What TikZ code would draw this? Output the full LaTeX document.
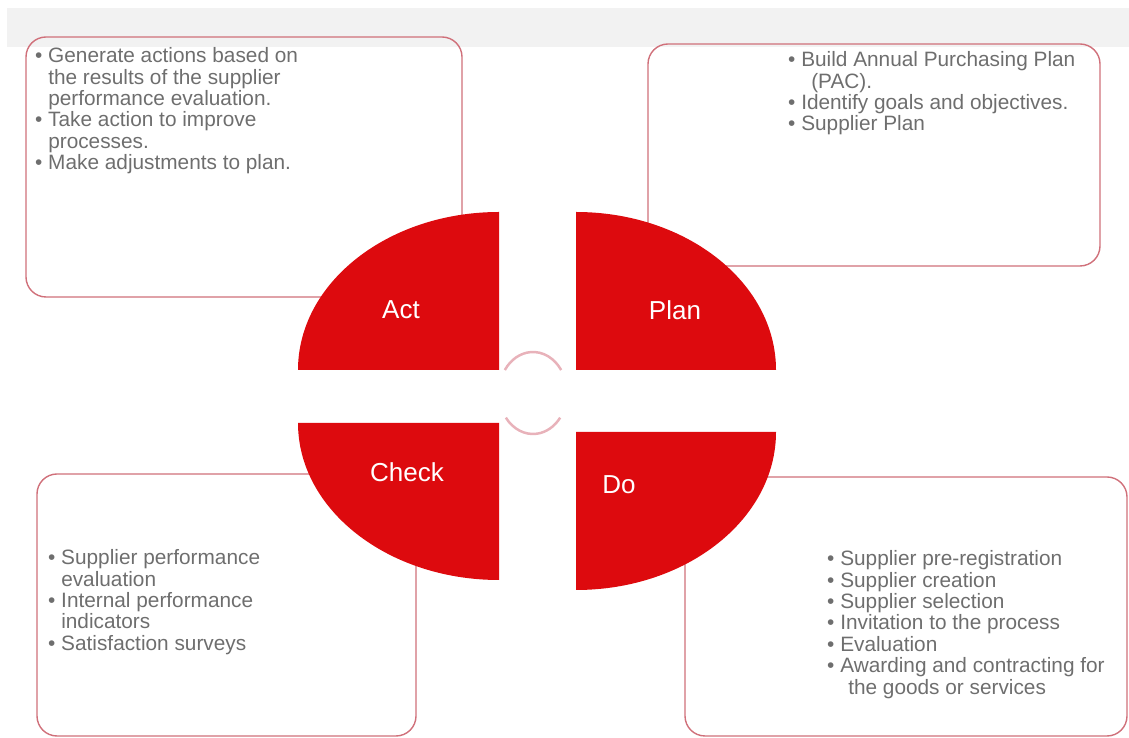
\documentclass[tikz,border=0pt]{standalone}
\usepackage{fontspec}
\setmainfont{Liberation Sans}
\definecolor{pdcared}{RGB}{221,10,14}
\definecolor{boxline}{RGB}{208,112,122}
\definecolor{ringline}{RGB}{232,178,186}
\definecolor{bandgray}{RGB}{242,242,242}
\definecolor{itemgray}{RGB}{110,110,110}
\newcommand{\bul}{\textbullet\ }
\newcommand{\bindent}{\hphantom{\textbullet\ }}

\begin{document}
\begin{tikzpicture}[x=1pt, y=1pt,
    stepbox/.style={draw=boxline, line width=1.4pt, rounded corners=20pt},
    quarter/.style={fill=pdcared},
    phase/.style={text=white, font=\fontsize{26}{30}\selectfont},
    itemlist/.style={anchor=north west, inner sep=0pt, align=left, text=itemgray,
        font=\fontsize{20.8}{21.4}\selectfont}]
    \useasboundingbox (0,0) rectangle (1129,738);
    \fill[bandgray] (7,691) rectangle (1129,730);

    % boxes
    \draw[stepbox] (26,441) rectangle (462,701);
    \draw[stepbox] (648,472) rectangle (1100,694);
    \draw[stepbox] (37,2) rectangle (416,264);
    \draw[stepbox] (685,2) rectangle (1127,261);

    % quarters
    \fill[quarter] (499,368) -- ++(-201,0) arc[start angle=180, end angle=90, x radius=201, y radius=158] -- cycle;
    \fill[quarter] (576,368) -- ++(200,0) arc[start angle=0, end angle=90, x radius=200, y radius=158] -- cycle;
    \fill[quarter] (499,315) -- ++(-201,0) arc[start angle=180, end angle=270, x radius=201, y radius=157] -- cycle;
    \fill[quarter] (576,306) -- ++(200,0) arc[start angle=0, end angle=-90, x radius=200, y radius=158] -- cycle;

    \coordinate (hub) at (533,345);
    \draw[ringline, line width=2.5pt] (hub) ++(34:34 and 41) arc[start angle=34, end angle=146, x radius=34, y radius=41];
    \draw[ringline, line width=2.5pt] (hub) ++(217:34 and 41) arc[start angle=217, end angle=323, x radius=34, y radius=41];

    \node[phase] (act) at (401,428) {Act};
    \node[phase] (plan) at (675,428) {Plan};
    \node[phase] (check) at (407,266) {Check};
    \node[phase] (do) at (619,253) {Do};

    \node[itemlist] (acttext) at (35,690.5) {\bul Generate actions based on\\
        \bindent the results of the supplier\\
        \bindent performance evaluation.\\
        \bul Take action to improve\\
        \bindent processes.\\
        \bul Make adjustments to plan.};
    \node[itemlist] (plantext) at (788,686.5) {\bul Build Annual Purchasing Plan\\
        \bindent\hspace{10pt}(PAC).\\
        \bul Identify goals and objectives.\\
        \bul Supplier Plan};
    \node[itemlist] (checktext) at (48,188.5) {\bul Supplier performance\\
        \bindent evaluation\\
        \bul Internal performance\\
        \bindent indicators\\
        \bul Satisfaction surveys};
    \node[itemlist] (dotext) at (827,187.5) {\bul Supplier pre-registration\\
        \bul Supplier creation\\
        \bul Supplier selection\\
        \bul Invitation to the process\\
        \bul Evaluation\\
        \bul Awarding and contracting for\\
        \bindent\hspace{8pt}the goods or services};
\end{tikzpicture}
\end{document}
